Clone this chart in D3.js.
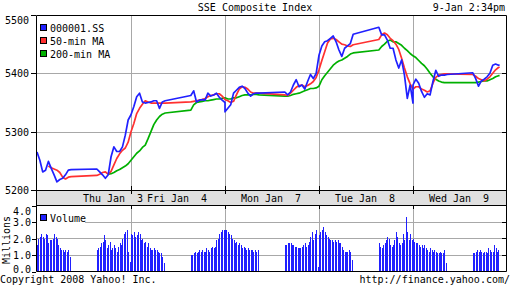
<!DOCTYPE html>
<html>
<head>
<meta charset="utf-8">
<script src="https://d3js.org/d3.v7.min.js"></script>
<style>
body { margin: 0; background: #fff; }
svg text { font-family: "DejaVu Sans Mono", monospace; font-size: 10px; white-space: pre; fill: #000; }
</style>
</head>
<body>
<script>
// trading days shown, session minutes counted from 9:30 (lunch 11:30-13:00)
const days = ["Thu Jan  3", "Fri Jan  4", "Mon Jan  7", "Tue Jan  8", "Wed Jan  9"];
const sessionTimes = [0,10,20,30,40,50,60,70,80,90,100,110,120, 210,220,230,240,250,260,270,280,290,300,310,320,330];
const lastDayTimes = [0,10,20,30,40,50,60,70,80,90,100,110,120, 210,220,230,240,250,260,270,280,290,300,304];
const priceTicks = [5200, 5300, 5400, 5500];
const volTicks = [0, 1, 2, 3, 4];

// 000001.SS
const sse = [
  [5265,5251,5231,5234,5249,5237,5226,5214,5218,5220,5226,5234,5235, 5236,5231,5226,5220,5226,5257,5274,5266,5266,5274,5294,5320,5329],
  [5329,5343,5360,5366,5351,5349,5350,5351,5353,5353,5340,5351,5353, 5362,5370,5351,5354,5355,5354,5366,5361,5363,5366,5359,5354,5350],
  [5334,5340,5346,5366,5371,5376,5378,5374,5366,5361,5365,5366,5366, 5368,5363,5368,5380,5389,5377,5380,5373,5386,5398,5391,5400,5431],
  [5431,5447,5454,5456,5460,5464,5454,5440,5429,5443,5447,5451,5467, 5479,5466,5466,5457,5443,5443,5423,5409,5423,5397,5357,5380,5349],
  [5380,5390,5383,5369,5359,5365,5363,5386,5405,5395,5397,5397,5398, 5401,5391,5378,5387,5390,5394,5400,5414,5416,5414,5414]
];
// 50-min MA
const ma50 = [
  [null,null,null,null,5241,5238,5236,5234,5230,5222,5219,5222,5223, 5225,5227,5230,5231,5227,5232,5243,5254,5262,5268,5272,5282,5300],
  [5300,5314,5331,5340,5347,5353,5351,5349,5349,5349,5349,5349,5349, 5351,5352,5353,5354,5355,5357,5360,5362,5363,5365,5365,5361,5355],
  [5355,5353,5350,5352,5363,5373,5377,5376,5373,5368,5366,5366,5366, 5363,5362,5366,5371,5376,5379,5380,5377,5379,5382,5386,5393,5406],
  [5406,5422,5437,5452,5459,5460,5458,5454,5450,5449,5447,5446,5449, 5458,5466,5469,5466,5460,5456,5450,5441,5426,5409,5394,5382,5373],
  [5373,5377,5377,5373,5371,5368,5370,5383,5393,5397,5398,5399,5399, 5398,5395,5391,5389,5387,5390,5394,5400,5406,5410,5411]
];
// 200-min MA
const ma200 = [
  [null,null,null,null,null,null,null,null,null,null,null,null,null, null,null,null,null,5227,5228,5230,5233,5235,5238,5241,5245,5251],
  [5251,5257,5263,5267,5273,5277,5288,5300,5312,5320,5326,5330,5332, 5337,5346,5350,5351,5352,5353,5353,5354,5355,5356,5356,5357,5358],
  [5358,5356,5356,5358,5358,5360,5362,5363,5363,5363,5364,5364,5363, 5361,5361,5362,5364,5365,5366,5368,5370,5372,5374,5374,5375,5378],
  [5378,5389,5396,5402,5408,5414,5418,5421,5423,5426,5429,5433,5435, 5440,5446,5450,5455,5457,5454,5454,5451,5448,5443,5439,5434,5430],
  [5430,5427,5422,5417,5413,5407,5400,5394,5390,5387,5385,5384,5384, 5384,5384,5385,5386,5387,5387,5389,5391,5394,5396,5396]
];
// volume, millions, 5-minute bars
const volume = [
  [1.6,2.0,2.1,2.3,2.1,2.0,2.3,2.2,1.7,1.9,1.9,2.0,2.3,2.1,2.0,1.6,1.4,1.3,1.3,1.2,1.3,1.2,1.3,0.9,
   1.3,1.4,1.5,1.7,1.8,2.2,1.9,1.4,1.6,1.8,1.3,1.4,1.6,1.4,1.2,1.5,1.7,1.6,2.0,2.3,2.4,2.5,1.2,0.6],
  [2.3,2.2,2.4,2.1,2.2,2.4,2.3,1.9,2.0,1.7,1.8,1.5,1.7,1.4,1.3,1.3,1.4,1.3,1.3,1.2,1.1,1.1,0.9,0.5,
   1.0,1.0,1.1,1.2,1.1,1.2,1.3,1.2,1.3,1.2,1.2,1.4,1.3,1.2,1.4,1.5,1.4,1.5,1.9,2.0,2.3,2.4,2.5,2.5],
  [2.5,2.5,2.4,2.3,2.2,2.0,1.9,1.7,1.8,1.6,1.7,1.6,1.4,1.5,1.4,1.3,1.4,1.3,1.3,1.3,1.2,1.3,1.2,1.3,
   1.6,1.6,1.7,1.7,1.7,1.6,1.6,1.5,1.5,1.4,1.4,1.4,1.5,1.6,1.7,1.5,1.6,1.8,2.1,2.4,1.9,2.3,2.5,0.3],
  [2.2,2.4,2.5,2.7,2.4,2.2,2.1,2.0,1.9,1.9,1.8,1.9,1.8,1.9,1.7,1.7,1.5,1.3,1.2,1.2,1.2,1.3,1.2,0.7,
   1.7,1.5,1.4,1.6,1.7,1.9,2.1,2.0,1.6,1.5,1.6,1.9,2.4,2.1,1.7,1.6,1.7,2.3,1.9,3.3,2.4,1.9,2.3,1.9],
  [2.0,1.8,1.7,1.7,1.6,1.5,1.6,1.4,1.6,1.4,1.3,1.2,1.4,1.3,1.2,1.3,1.2,1.1,1.1,1.2,1.1,1.1,1.3,0.5,
   1.1,1.1,1.2,1.3,1.2,1.3,1.2,1.1,1.2,1.2,1.1,1.4,1.3,1.2,1.2,1.6,1.4,1.2,1.3]
];
const barTimes = d3.range(0, 120, 5).concat(d3.range(210, 330, 5));

const blue = "#2020ff", red = "#ff3030", green = "#00b000", grid = "#a8a8a8";
const dayLen = 330;
const L = 37, R = 507, T = 15, B = 190, bandB = 205, volB = 271;
const px = v => Math.round(v) + 0.5;

const svg = d3.select("body").append("svg").attr("width", 512).attr("height", 288);
svg.append("rect").attr("width", 512).attr("height", 288).attr("fill", "#fff");

let x = d3.scaleLinear().domain([0, days.length * dayLen]).range([L, R]);
let y = d3.scaleLinear().domain([5200, 5500]).range([B, T]);
let yv = d3.scaleLinear().domain([0, 4]).range([volB + 0.5, bandB + 0.5]);

function points(series) {
  return series.flatMap((vals, d) => {
    let ts = d === days.length - 1 ? lastDayTimes : sessionTimes;
    return vals.map((v, i) => ({t: d * dayLen + ts[i], v: v}));
  });
}

// grid
let boundaries = d3.range(1, days.length).map(d => d * dayLen);
let g = svg.append("g").attr("stroke", grid).attr("stroke-width", 1);
boundaries.forEach(b => {
  g.append("line").attr("x1", px(x(b))).attr("x2", px(x(b))).attr("y1", T).attr("y2", B);
  g.append("line").attr("x1", px(x(b))).attr("x2", px(x(b))).attr("y1", bandB).attr("y2", volB);
});
[5300, 5400].forEach(p => {
  g.append("line").attr("x1", L).attr("x2", R).attr("y1", px(y(p))).attr("y2", px(y(p)));
});
[1, 2, 3].forEach(v => {
  g.append("line").attr("x1", L).attr("x2", R).attr("y1", px(yv(v) - 0.5)).attr("y2", px(yv(v) - 0.5));
});

// date band
svg.append("rect").attr("x", 36.5).attr("y", B + 0.5).attr("width", 470).attr("height", bandB - B)
  .attr("fill", "#e0e0e0");
days.forEach((name, d) => {
  let shift = d === 0 ? 29 : -1;
  svg.append("text").attr("x", x(d * dayLen + dayLen / 2) + shift).attr("y", 201.5)
    .attr("text-anchor", "middle").text(name);
});

// price lines
let line = d3.line().defined(d => d.v != null).x(d => x(d.t)).y(d => y(d.v));
[[ma200, green], [ma50, red], [sse, blue]].forEach(([s, col]) => {
  svg.append("path").datum(points(s)).attr("fill", "none").attr("stroke", col)
    .attr("stroke-width", 1.7).attr("stroke-linejoin", "round").attr("d", line);
});

// volume bars
let bars = volume.flatMap((vals, d) => vals.map((v, i) => ({t: d * dayLen + barTimes[i], v: v})));
svg.append("g").selectAll("rect").data(bars).join("rect")
  .attr("x", d => Math.round(x(d.t)))
  .attr("width", 1)
  .attr("y", d => Math.round(yv(d.v)))
  .attr("height", d => volB - Math.round(yv(d.v)))
  .attr("fill", blue)
  .attr("shape-rendering", "crispEdges");

// frames
let f = svg.append("g").attr("stroke", "#000").attr("stroke-width", 1).attr("fill", "none");
f.append("path").attr("d", `M36.5,${T + 0.5}H506.5V${volB + 0.5}H36.5Z`);
f.append("line").attr("x1", 36.5).attr("x2", 506.5).attr("y1", B + 0.5).attr("y2", B + 0.5);
f.append("line").attr("x1", 36.5).attr("x2", 506.5).attr("y1", bandB + 0.5).attr("y2", bandB + 0.5);
boundaries.forEach(b => {
  f.append("line").attr("x1", px(x(b))).attr("x2", px(x(b))).attr("y1", 186).attr("y2", 194);
  f.append("line").attr("x1", px(x(b))).attr("x2", px(x(b))).attr("y1", bandB).attr("y2", 209);
});
[5300, 5400].forEach(p => {
  f.append("line").attr("x1", 502).attr("x2", 506.5).attr("y1", px(y(p))).attr("y2", px(y(p)));
});
[1, 2, 3].forEach(v => {
  f.append("line").attr("x1", 502).attr("x2", 506.5).attr("y1", px(yv(v) - 0.5)).attr("y2", px(yv(v) - 0.5));
});

// axes
let yAxis = svg.append("g").attr("transform", "translate(36,0)")
  .call(d3.axisLeft(y.copy().interpolate(d3.interpolateRound)).tickValues(priceTicks).tickFormat(d3.format("d")).tickSize(5).tickPadding(2));
let vAxis = svg.append("g").attr("transform", "translate(36,0)")
  .call(d3.axisLeft(yv.copy().interpolate(d3.interpolateRound)).tickValues(volTicks).tickFormat(d3.format(".1f")).tickSize(4).tickPadding(1));
[yAxis, vAxis].forEach(a => {
  a.select(".domain").remove();
  a.attr("font-family", null).attr("font-size", null);
  a.selectAll("line").attr("stroke", "#000");
});
yAxis.selectAll("text").filter(d => d === 5500).attr("dy", "0.82em");
vAxis.selectAll("text").filter(d => d === 4).attr("dy", "0.82em");
vAxis.selectAll("text").filter(d => d === 0).attr("dy", "0.05em");

svg.append("text").attr("transform", "translate(10,240) rotate(-90)")
  .attr("text-anchor", "middle").text("Millions");

// legends
let legend = [["000001.SS", blue], ["50-min MA", red], ["200-min MA", green]];
legend.forEach(([name, col], i) => {
  svg.append("rect").attr("x", 40.5).attr("y", 24.5 + i * 13).attr("width", 6).attr("height", 6)
    .attr("fill", col).attr("stroke", "#000");
  svg.append("text").attr("x", 50).attr("y", 31.5 + i * 13).text(name);
});
svg.append("rect").attr("x", 37).attr("y", 211).attr("width", 48).attr("height", 14).attr("fill", "#fff");
svg.append("rect").attr("x", 40.5).attr("y", 214.5).attr("width", 6).attr("height", 6)
  .attr("fill", blue).attr("stroke", "#000");
svg.append("text").attr("x", 50).attr("y", 222).text("Volume");

// titles
svg.append("text").attr("x", 255).attr("y", 10.5).attr("text-anchor", "middle").text("SSE Composite Index");
svg.append("text").attr("x", 505).attr("y", 10.5).attr("text-anchor", "end").text("9-Jan 2:34pm");
svg.append("text").attr("x", 0).attr("y", 283).text("Copyright 2008 Yahoo! Inc.");
svg.append("text").attr("x", 510).attr("y", 283).attr("text-anchor", "end").text("http://finance.yahoo.com/");
</script>
</body>
</html>
